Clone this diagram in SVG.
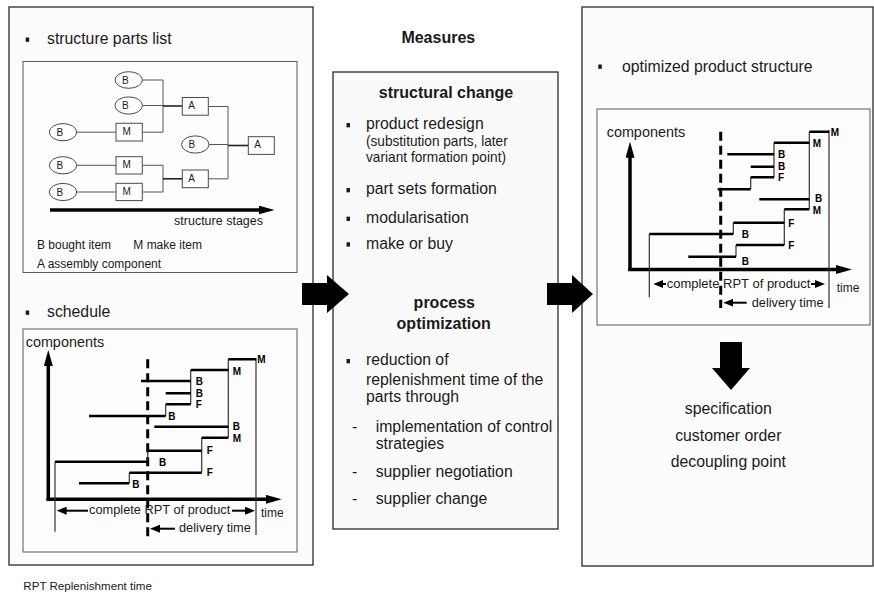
<svg xmlns="http://www.w3.org/2000/svg" width="874" height="596" viewBox="0 0 874 596">
  <style>
    text { font-family: "Liberation Sans", Arial, sans-serif; fill: #1a1a1a; }
    .t16 { font-size: 15.8px; }
    .t14 { font-size: 14.5px; }
    .h16 { font-size: 16px; font-weight: bold; }
    .t13 { font-size: 12.8px; }
    .t12 { font-size: 12px; }
    .t10 { font-size: 10px; }
    .lbl { font-size: 10px; font-weight: bold; fill: #000; }
    .mid { text-anchor: middle; }
    .panel { fill: #fcfcfc; stroke: #2a2a2a; stroke-width: 1.3; }
    .inner { fill: #fdfdfd; stroke: #5a5a5a; stroke-width: 1; }
    .bullet { fill: #1a1a1a; }
    .node { fill: #ffffff; stroke: #4a4a4a; stroke-width: 1; }
    .link { fill: none; stroke: #555; stroke-width: 1; }
    .link-in { fill: none; stroke: #222; stroke-width: 1.6; }
    .axis { stroke: #000; stroke-width: 3.5; fill: none; }
    .bar { stroke: #000; stroke-width: 2.5; fill: none; }
    .tick { stroke: #333; stroke-width: 1.2; fill: none; }
    .dash { stroke: #000; stroke-width: 3; stroke-dasharray: 9 5; fill: none; }
    .span { stroke: #000; stroke-width: 2; fill: none; }
    .big-arrow { fill: #000; }
  </style>
  <defs>
    <marker id="axhead" viewBox="0 0 16 9" markerWidth="16" markerHeight="9" markerUnits="userSpaceOnUse" refX="4" refY="4.5" orient="auto">
      <path d="M0,0 L16,4.5 L0,9 z" fill="#000"/>
    </marker>
    <marker id="smhead" viewBox="0 0 10 8" markerWidth="10" markerHeight="8" markerUnits="userSpaceOnUse" refX="2" refY="4" orient="auto">
      <path d="M0,0 L10,4 L0,8 z" fill="#000"/>
    </marker>
  </defs>

  <rect width="874" height="596" fill="#ffffff"/>

  <!-- Left panel: current structure and schedule -->
  <g id="panel-current">
    <rect class="panel" x="9" y="7" width="304" height="558"/>
    <rect class="bullet" x="25.7" y="37.5" width="3.5" height="4.3"/>
    <text class="t16" x="47" y="44">structure parts list</text>
    <rect class="inner" x="23" y="61.5" width="274" height="211"/>
    <rect class="bullet" x="25.7" y="310.5" width="3.5" height="4.3"/>
    <text class="t16" x="47" y="317">schedule</text>
    <rect class="inner" x="23" y="329" width="274" height="223"/>
  </g>

  <!-- Structure parts list tree -->
  <g id="tree-links">
    <path class="link" d="M142.4,80 H163 V132.2 M142.4,105.5 H163 M142.3,132.2 H163"/>
    <path class="link-in" d="M163,106 H182.3"/>
    <path class="link" d="M76.7,132.2 H116 M76.7,165.3 H116 M76.7,192 H116"/>
    <path class="link" d="M142.3,165.3 H163 V192 H142.3"/>
    <path class="link-in" d="M163,178.8 H182.3"/>
    <path class="link" d="M208.3,106.5 H228 V178.8 H208.3 M209,144.5 H228"/>
    <path class="link-in" d="M228,145.5 H248.3"/>
  </g>
  <g id="b1"><ellipse class="node" cx="128.7" cy="80" rx="13.7" ry="8.3"/><text class="t10" x="122" y="83.5">B</text></g>
  <g id="b2"><ellipse class="node" cx="128.7" cy="105.5" rx="13.7" ry="8.6"/><text class="t10" x="122" y="109">B</text></g>
  <g id="b3"><ellipse class="node" cx="63" cy="132.2" rx="13.7" ry="8.6"/><text class="t10" x="56.5" y="135.7">B</text></g>
  <g id="b4"><ellipse class="node" cx="195.3" cy="144.5" rx="13.7" ry="8.6"/><text class="t10" x="188.5" y="148">B</text></g>
  <g id="b5"><ellipse class="node" cx="63" cy="165.3" rx="13.7" ry="8.6"/><text class="t10" x="56.5" y="168.8">B</text></g>
  <g id="b6"><ellipse class="node" cx="63" cy="192" rx="13.7" ry="8.6"/><text class="t10" x="56.5" y="195.5">B</text></g>
  <g id="m1"><rect class="node" x="116" y="123.3" width="26.3" height="17.7"/><text class="t10" x="122.5" y="135">M</text></g>
  <g id="m2"><rect class="node" x="116" y="156.7" width="26.3" height="17.3"/><text class="t10" x="122.5" y="168">M</text></g>
  <g id="m3"><rect class="node" x="116" y="183.3" width="26.3" height="17.3"/><text class="t10" x="122.5" y="195">M</text></g>
  <g id="a1"><rect class="node" x="182.3" y="97.5" width="26" height="17.7"/><text class="t10" x="188.3" y="109">A</text></g>
  <g id="a2"><rect class="node" x="182.3" y="170" width="26" height="17.7"/><text class="t10" x="188.3" y="181.5">A</text></g>
  <g id="a3"><rect class="node" x="248.3" y="136.7" width="26" height="17.7"/><text class="t10" x="254.3" y="148">A</text></g>
  <g id="structure-legend">
    <line class="axis" x1="50" y1="210" x2="262.5" y2="210" stroke-width="4" marker-end="url(#axhead)"/>
    <text class="t12" x="263" y="225" text-anchor="end" style="font-size:12.5px">structure stages</text>
    <text class="t12" x="37" y="249">B bought item</text>
    <text class="t12" x="133.3" y="249">M make item</text>
    <text class="t12" x="37" y="267.5">A assembly component</text>
  </g>

  <!-- Schedule chart (current) -->
  <g id="chart-current">
    <text x="25.7" y="346.7" style="font-size:14.4px">components</text>
    <line class="axis" x1="48.3" y1="501" x2="48.3" y2="362" marker-end="url(#axhead)"/>
    <line class="axis" x1="46.5" y1="499.3" x2="269.7" y2="499.3" marker-end="url(#axhead)"/>
    <line class="dash" x1="147.7" y1="359.3" x2="147.7" y2="536.7"/>
    <path class="tick" d="M256,358 V535 M228.3,359.3 V437.7 M190.7,370 V404.3 M165.7,404.3 V416 M201.7,437.7 V472.7 M147.7,450.7 V461.7 M129.3,472.7 V483.3 M55,461.7 V531.7"/>
    <path class="bar" d="M228.3,359.3 H256 M190.7,370 H228.3 M141,381 H190.7 M165.7,393.3 H190.7 M165.7,404.3 H190.7 M89,416 H165.7 M154.3,426.7 H228.3 M201.7,437.7 H228.3 M147.7,450.7 H201.7 M55,461.7 H147.7 M129.3,472.7 H201.7 M79,483.3 H129.3"/>
    <text class="lbl" x="257.3" y="363.3">M</text>
    <text class="lbl" x="232.7" y="375">M</text>
    <text class="lbl" x="195.7" y="384.7">B</text>
    <text class="lbl" x="195.7" y="396.7">B</text>
    <text class="lbl" x="195.7" y="408.3">F</text>
    <text class="lbl" x="168.3" y="420">B</text>
    <text class="lbl" x="232.7" y="430">B</text>
    <text class="lbl" x="232.7" y="441.7">M</text>
    <text class="lbl" x="206.7" y="454">F</text>
    <text class="lbl" x="159" y="465.5">B</text>
    <text class="lbl" x="206.7" y="475.7">F</text>
    <text class="lbl" x="132.3" y="487.7">B</text>
    <line class="span" x1="88" y1="510.7" x2="64.7" y2="510.7" marker-end="url(#smhead)"/>
    <text class="t13" x="89" y="514.3">complete RPT of product</text>
    <line class="span" x1="232" y1="510.7" x2="247" y2="510.7" marker-end="url(#smhead)"/>
    <text class="t12" x="261" y="517">time</text>
    <line class="span" x1="175" y1="528.7" x2="158" y2="528.7" marker-end="url(#smhead)"/>
    <text class="t13" x="179" y="532.3">delivery time</text>
  </g>

  <!-- Measures -->
  <g id="measures-title">
    <text class="h16 mid" x="438.3" y="43">Measures</text>
  </g>
  <g id="measures">
    <rect class="panel" x="333" y="72" width="225" height="457" style="fill:#fafafa"/>
    <text class="h16 mid" x="446" y="98">structural change</text>
    <rect class="bullet" x="346.5" y="123" width="3.5" height="4.3"/>
    <text class="t16" x="366" y="129">product redesign</text>
    <text class="t14" x="366" y="145.5" textLength="141.7" lengthAdjust="spacingAndGlyphs">(substitution parts, later</text>
    <text class="t14" x="366" y="161.5" textLength="140" lengthAdjust="spacingAndGlyphs">variant formation point)</text>
    <rect class="bullet" x="346.5" y="188" width="3.5" height="4.3"/>
    <text class="t16" x="366" y="194">part sets formation</text>
    <rect class="bullet" x="346.5" y="216.7" width="3.5" height="4.3"/>
    <text class="t16" x="366" y="222.7">modularisation</text>
    <rect class="bullet" x="346.5" y="242.3" width="3.5" height="4.3"/>
    <text class="t16" x="366" y="248.5">make or buy</text>

    <text class="h16 mid" x="444.3" y="307.5">process</text>
    <text class="h16 mid" x="443.7" y="329.3">optimization</text>
    <rect class="bullet" x="346.5" y="359" width="3.5" height="4.3"/>
    <text class="t16" x="366" y="365">reduction of</text>
    <text class="t16" x="366" y="385">replenishment time of the</text>
    <text class="t16" x="366" y="402.3">parts through</text>
    <text class="t16" x="352" y="431.7">-</text>
    <text class="t16" x="375.7" y="431.7">implementation of control</text>
    <text class="t16" x="375.7" y="449.3">strategies</text>
    <text class="t16" x="352" y="477.3">-</text>
    <text class="t16" x="375.7" y="477.3">supplier negotiation</text>
    <text class="t16" x="352" y="504.3">-</text>
    <text class="t16" x="375.7" y="504.3">supplier change</text>
  </g>

  <!-- Right panel: optimized structure -->
  <g id="panel-optimized">
    <rect class="panel" x="582" y="7" width="291" height="559"/>
    <rect class="bullet" x="598.3" y="64.5" width="3.5" height="4.3"/>
    <text class="t16" x="622" y="71.7">optimized product structure</text>
    <rect class="inner" x="597" y="109" width="273" height="216"/>
  </g>

  <!-- Schedule chart (optimized) -->
  <g id="chart-optimized">
    <text x="606.7" y="136.7" style="font-size:14.4px">components</text>
    <line class="axis" x1="630" y1="271" x2="630" y2="153.7" marker-end="url(#axhead)"/>
    <line class="axis" x1="628.3" y1="269.5" x2="840" y2="269.5" marker-end="url(#axhead)"/>
    <line class="dash" x1="720.7" y1="131.7" x2="720.7" y2="308"/>
    <path class="tick" d="M829,130 V308 M809.3,131.7 V209.3 M774,142.7 V177.3 M750.7,177.3 V189.3 M784.3,209.3 V245 M733.3,222.7 V234 M736,245 V256.7 M649.3,234 V297.3"/>
    <path class="bar" d="M809.3,131.7 H829 M774,142.7 H809.3 M727.3,154.3 H774 M750.7,166.7 H774 M750.7,177.3 H774 M717.7,189.3 H750.7 M759.3,199.3 H809.3 M784.3,209.3 H809.3 M733.3,222.7 H784.3 M649.3,234 H733.3 M736,245 H784.3 M688.3,256.7 H736"/>
    <text class="lbl" x="830.7" y="136">M</text>
    <text class="lbl" x="812.7" y="146.5">M</text>
    <text class="lbl" x="778" y="158.3">B</text>
    <text class="lbl" x="778" y="170.3">B</text>
    <text class="lbl" x="778" y="181">F</text>
    <text class="lbl" x="815" y="202">B</text>
    <text class="lbl" x="812.7" y="213.5">M</text>
    <text class="lbl" x="788.3" y="226.7">F</text>
    <text class="lbl" x="741.7" y="237.5">B</text>
    <text class="lbl" x="788.3" y="248.5">F</text>
    <text class="lbl" x="741.7" y="265">B</text>
    <line class="span" x1="666" y1="284" x2="661.3" y2="284" marker-end="url(#smhead)"/>
    <text class="t13" x="666.7" y="288.3" style="font-size:13px">complete RPT of product</text>
    <line class="span" x1="811" y1="284" x2="817" y2="284" marker-end="url(#smhead)"/>
    <text class="t12" x="836.7" y="291.7">time</text>
    <line class="span" x1="746.7" y1="302.7" x2="731.3" y2="302.7" marker-end="url(#smhead)"/>
    <text class="t13" x="751.7" y="306.7">delivery time</text>
  </g>

  <!-- Block arrows between stages -->
  <g id="flow-arrows">
    <polygon class="big-arrow" points="302,283 327,283 327,275 349,294 327,313 327,305 302,305"/>
    <polygon class="big-arrow" points="547,283 572,283 572,275 593,294 572,313 572,305 547,305"/>
    <polygon class="big-arrow" points="720,342 742,342 742,368 750,368 731,390 712,368 720,368"/>
  </g>

  <g id="decoupling">
    <text class="t16 mid" x="728.3" y="414.3">specification</text>
    <text class="t16 mid" x="728.3" y="441">customer order</text>
    <text class="t16 mid" x="728.3" y="466.7">decoupling point</text>
  </g>

  <g id="footnote">
    <text x="23.3" y="590" style="font-size:11.6px">RPT Replenishment time</text>
  </g>
</svg>
